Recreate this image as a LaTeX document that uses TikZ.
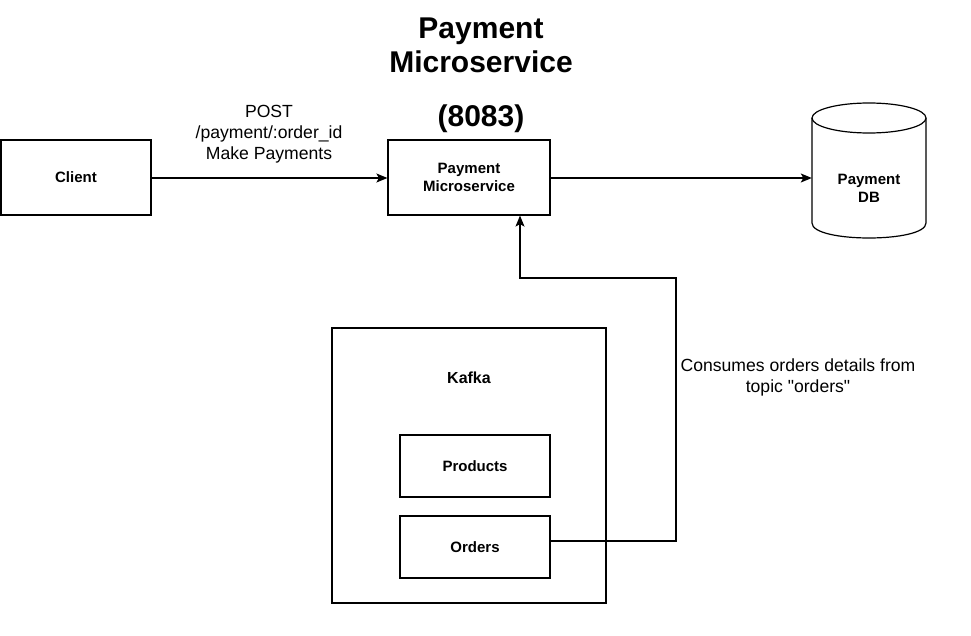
\documentclass[tikz,border=0pt]{standalone}
\usepackage{fontspec}
\setmainfont{Liberation Sans}[Ligatures=TeXOff]
\usetikzlibrary{arrows.meta}
\begin{document}
\begin{tikzpicture}[x=1pt,y=-1pt,
  box/.style={draw=black,line width=1.2pt,fill=white,minimum width=#1,inner sep=0pt,font=\bfseries\fontsize{15}{18}\selectfont,align=center},
  conn/.style={draw=black,line width=1.2pt},
  arr/.style={conn,-{Stealth[length=11pt,width=9pt,inset=2.5pt]}},
  lbl/.style={font=\fontsize{17.6}{21}\selectfont,align=center,inner sep=0pt},
  ttl/.style={font=\bfseries\fontsize{30}{34}\selectfont,align=center,inner sep=0pt}]
\useasboundingbox (0,0) rectangle (971,636);
\fill[white] (0,0) rectangle (971,636);
% title
\node[ttl] (title) at (481,45) {Payment\\Microservice};
\node[ttl] (port) at (481,119) {(8083)};
% boxes
\node[box=150pt,minimum height=75pt] (client) at (76,177.5) {Client};
\node[box=162pt,minimum height=75pt] (pm) at (469,177.5) {Payment\\Microservice};
\node[box=274pt,minimum height=275pt,draw=black] (kafka) at (469,465.5) {};
\node[font=\bfseries\fontsize{16}{18}\selectfont,inner sep=0pt] (kafkalbl) at (469,378) {Kafka};
\node[box=150pt,minimum height=62pt] (products) at (475,466) {Products};
\node[box=150pt,minimum height=62pt] (orders) at (475,547) {Orders};
% database cylinder
\node[minimum width=114pt,minimum height=135pt,inner sep=0pt] (db) at (869,170.5) {};
\draw[line width=1.2pt,fill=white] (812,118) -- (812,223) .. controls (812,243) and (926,243) .. (926,223) -- (926,118);
\draw[line width=1.2pt,fill=white] (869,118) ellipse [x radius=57, y radius=15];
\node[font=\bfseries\fontsize{15}{18}\selectfont,align=center,inner sep=0pt] (dblbl) at (869,188) {Payment\\DB};
% connectors
\draw[arr] (client.east |- 0,178) -- (pm.west |- 0,178);
\node[lbl] (postlbl) at (269,134) {POST\\/payment/:order\_id\\Make Payments};
\draw[arr] (pm.east |- 0,178) -- (db.west |- 0,178);
\coordinate (c1) at (676,541);
\coordinate (c2) at (676,278);
\coordinate (c3) at (520,278);
\draw[arr] (orders.east |- 0,541) -- (c1) -- (c2) -- (c3) -- (pm.south -| c3);
\node[lbl] (cons) at (798,377) {Consumes orders details from\\topic "orders"};
\end{tikzpicture}
\end{document}
